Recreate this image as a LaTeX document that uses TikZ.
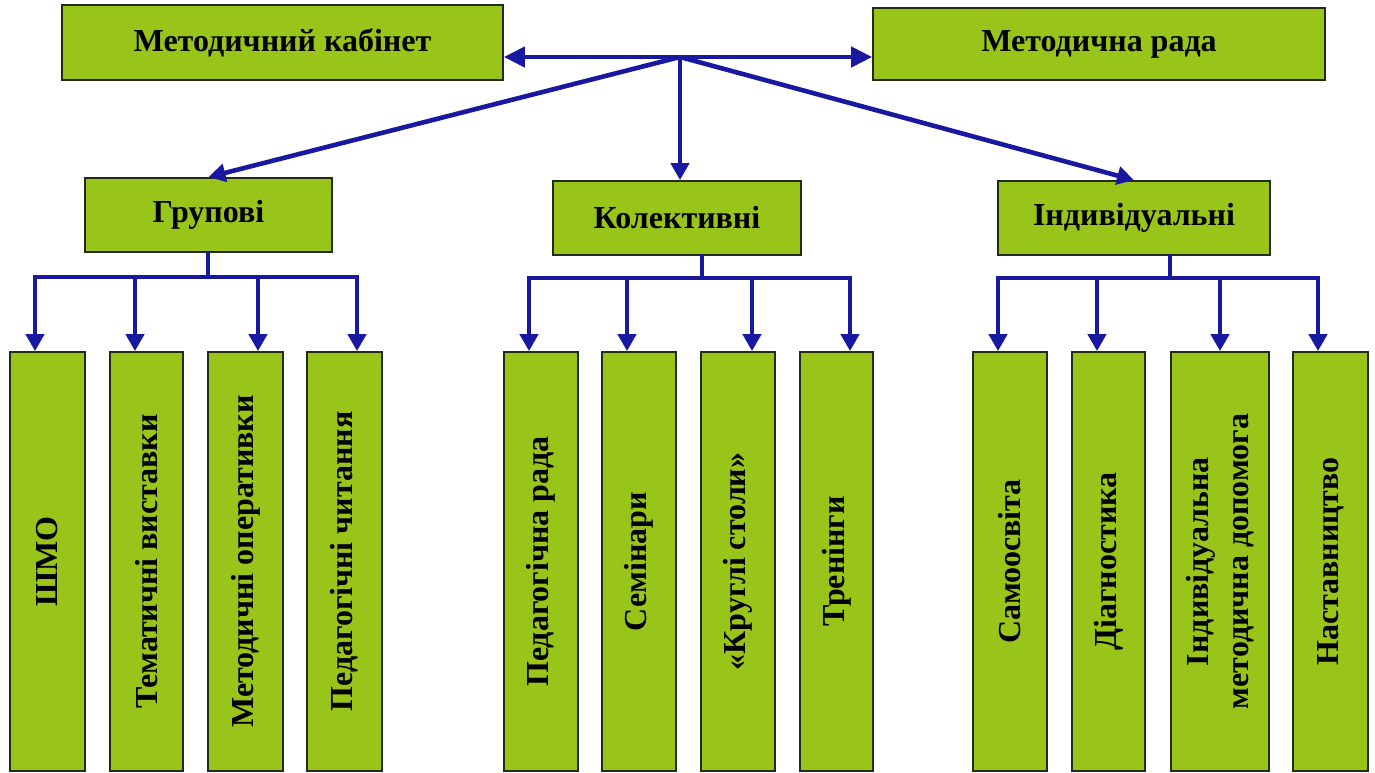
\documentclass[tikz,border=0pt]{standalone}
\usepackage{fontspec}
\setmainfont{Liberation Serif}
\usepackage{xcolor}
\usepackage{tikz}
\usetikzlibrary{arrows.meta}
\definecolor{boxgreen}{RGB}{153,196,26}
\definecolor{boxedge}{RGB}{36,44,20}
\definecolor{linkblue}{RGB}{24,24,160}

\begin{document}
\begin{tikzpicture}[x=1pt, y=-1pt,
  topbox/.style={draw=boxedge, line width=1.8pt, fill=boxgreen, inner sep=0pt, font=\fontsize{32}{38}\selectfont\bfseries},
  leafbox/.style={draw=boxedge, line width=1.8pt, fill=boxgreen, inner sep=0pt, rotate=90, minimum width=419pt, align=center, font=\fontsize{32}{40}\selectfont\bfseries},
  link/.style={linkblue, line width=4.6pt, line cap=rect},
  linkarrow/.style={linkblue, line width=4.6pt, -{Triangle[length=17pt, width=18pt]}},
  bigarrow/.style={linkblue, line width=4.6pt, -{Triangle[length=21pt, width=20pt]}}]
  \fill[white] (0,0) rectangle (1375,773);
  \useasboundingbox (0,0) rectangle (1375,773);
  % Top row
  \node[topbox, minimum width=441pt, minimum height=75pt] (kab) at (282.5,42.5) {Методичний кабінет};
  \node[topbox, minimum width=452pt, minimum height=72pt] (rada) at (1099,44) {Методична рада};
  % Forms of work
  \node[topbox, minimum width=247pt, minimum height=74pt] (grp) at (208.5,215) {Групові};
  \node[topbox, minimum width=248pt, minimum height=74pt] (kol) at (677,218) {Колективні};
  \node[topbox, minimum width=272pt, minimum height=74pt] (ind) at (1134,218) {Індивідуальні};
  % Leaves: group forms
  \node[leafbox, minimum height=75pt] (shmo) at (47.5,561.5) {ШМО};
  \node[leafbox, minimum height=73pt] (vyst) at (146.5,561.5) {Тематичні виставки};
  \node[leafbox, minimum height=75pt] (oper) at (245.5,561.5) {Методичні оперативки};
  \node[leafbox, minimum height=75pt] (chyt) at (344.5,561.5) {Педагогічні читання};
  % Leaves: collective forms
  \node[leafbox, minimum height=74pt] (prada) at (541,561.5) {Педагогічна рада};
  \node[leafbox, minimum height=74pt] (semin) at (639,561.5) {Семінари};
  \node[leafbox, minimum height=74pt] (stoly) at (738,561.5) {«Круглі столи»};
  \node[leafbox, minimum height=73pt] (trening) at (836.5,561.5) {Тренінги};
  % Leaves: individual forms
  \node[leafbox, minimum height=74pt] (samo) at (1010,561.5) {Самоосвіта};
  \node[leafbox, minimum height=73pt] (diag) at (1108.5,561.5) {Діагностика};
  \node[leafbox, minimum height=98pt] (dopom) at (1220,561.5) {Індивідуальна\\методична допомога};
  \node[leafbox, minimum height=75pt] (nast) at (1330.5,561.5) {Наставництво};
  % Arrows from the hub
  \coordinate (hub) at (680,57);
  \draw[bigarrow] (hub) -- (hub -| kab.east);
  \draw[bigarrow] (hub) -- (hub -| rada.west);
  \draw[linkarrow] (hub) -- (hub |- kol.north);
  \draw[linkarrow] (hub) -- (grp.north);
  \draw[linkarrow] (hub) -- (ind.north);
  % Group bus
  \coordinate (gstem) at (208,277);
  \coordinate (g1) at (35,277);
  \coordinate (g2) at (135,277);
  \coordinate (g3) at (258,277);
  \coordinate (g4) at (357,277);
  \draw[link] (grp.south -| gstem) -- (gstem);
  \draw[link] (g1) -- (g4);
  \draw[linkarrow] (g1) -- (g1 |- shmo.east);
  \draw[linkarrow] (g2) -- (g2 |- vyst.east);
  \draw[linkarrow] (g3) -- (g3 |- oper.east);
  \draw[linkarrow] (g4) -- (g4 |- chyt.east);
  % Collective bus
  \coordinate (kstem) at (702,278);
  \coordinate (k1) at (529,278);
  \coordinate (k2) at (627,278);
  \coordinate (k3) at (752,278);
  \coordinate (k4) at (850,278);
  \draw[link] (kol.south -| kstem) -- (kstem);
  \draw[link] (k1) -- (k4);
  \draw[linkarrow] (k1) -- (k1 |- prada.east);
  \draw[linkarrow] (k2) -- (k2 |- semin.east);
  \draw[linkarrow] (k3) -- (k3 |- stoly.east);
  \draw[linkarrow] (k4) -- (k4 |- trening.east);
  % Individual bus
  \coordinate (istem) at (1170,278);
  \coordinate (i1) at (998,278);
  \coordinate (i2) at (1097,278);
  \coordinate (i3) at (1220,278);
  \coordinate (i4) at (1318,278);
  \draw[link] (ind.south -| istem) -- (istem);
  \draw[link] (i1) -- (i4);
  \draw[linkarrow] (i1) -- (i1 |- samo.east);
  \draw[linkarrow] (i2) -- (i2 |- diag.east);
  \draw[linkarrow] (i3) -- (i3 |- dopom.east);
  \draw[linkarrow] (i4) -- (i4 |- nast.east);
\end{tikzpicture}
\end{document}
